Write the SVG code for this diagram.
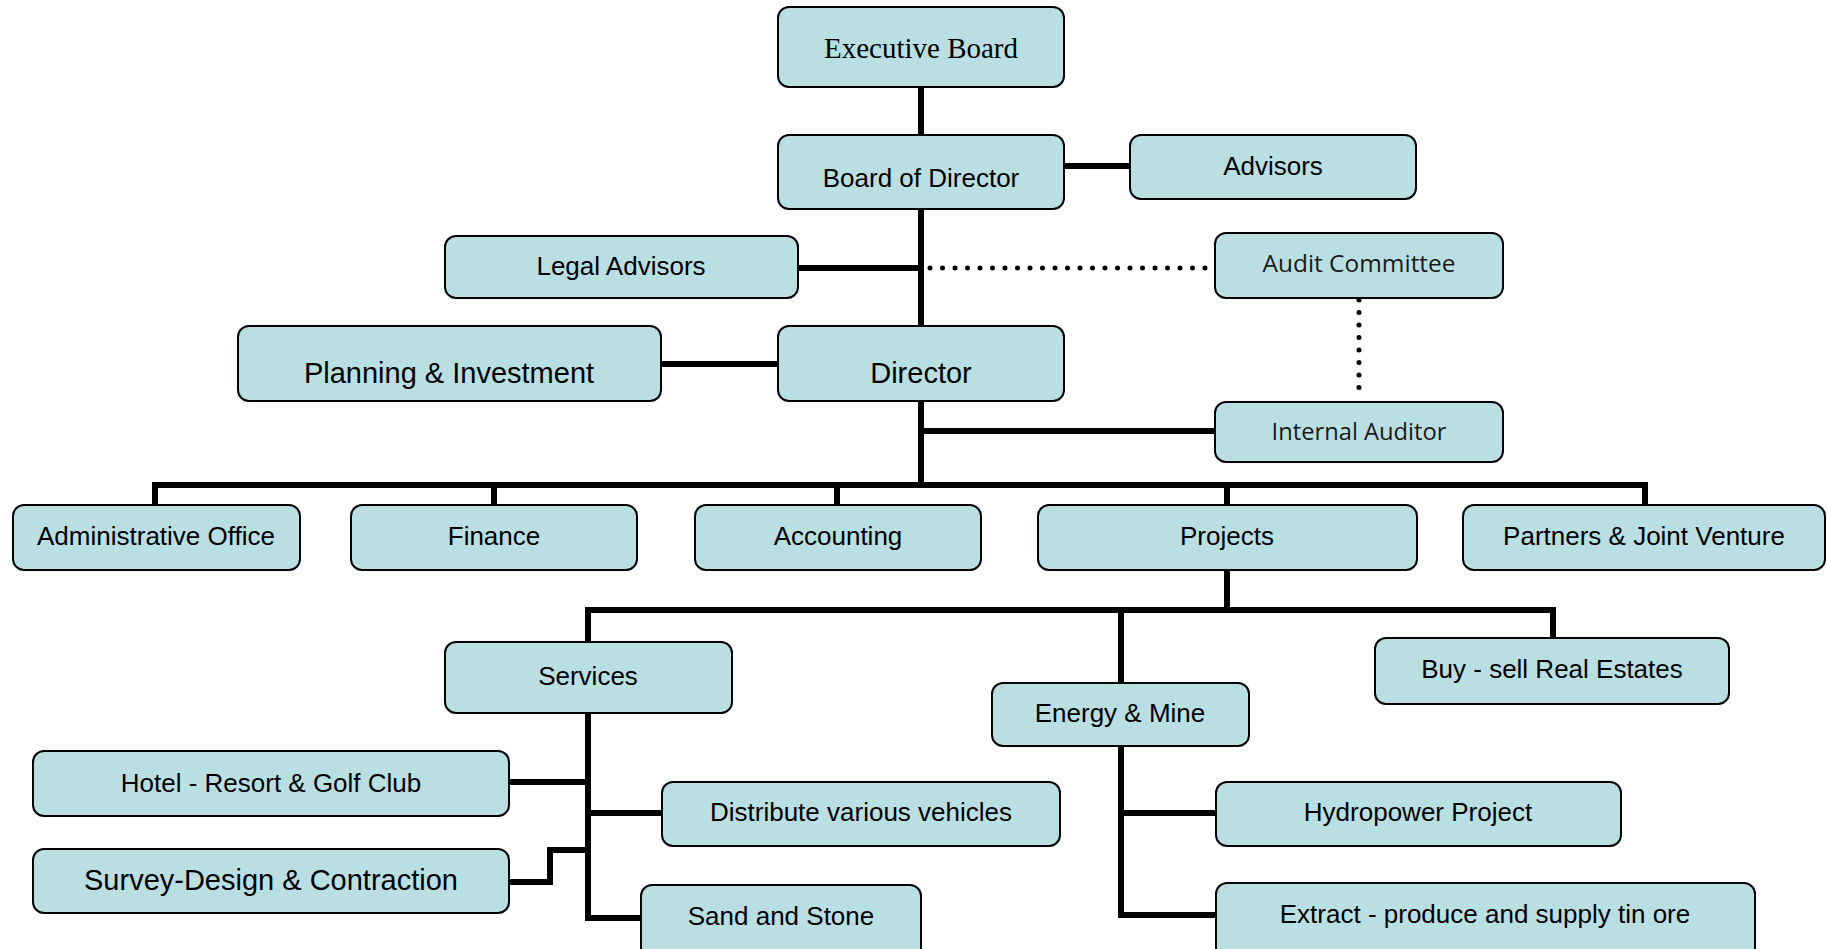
<svg xmlns="http://www.w3.org/2000/svg" width="1827" height="949" viewBox="0 0 1827 949">
<style>
.box{fill:#badfe3;stroke:#000;stroke-width:2}
.t{font-family:"Liberation Sans",Arial,sans-serif;font-size:26px;fill:#000;text-anchor:middle}
.big{font-size:29px}
.light{font-family:"Open Sans","Liberation Sans",sans-serif;font-weight:400;font-size:24px;fill:#1a1a1a}
.serif{font-family:"Liberation Serif","Times New Roman",serif;font-size:29px}
.ln{fill:none;stroke:#000;stroke-width:6}
.dot{fill:none;stroke:#000;stroke-width:5;stroke-linecap:round;stroke-dasharray:0 12.5}
</style>
<rect width="1827" height="949" fill="#fff"/>
<g id="connectors">
<line class="ln" x1="921" y1="87" x2="921" y2="135"/>
<line class="ln" x1="1064" y1="166" x2="1130" y2="166"/>
<line class="ln" x1="921" y1="209" x2="921" y2="326"/>
<line class="ln" x1="798" y1="268" x2="921" y2="268"/>
<line class="dot" x1="930" y1="268" x2="1215" y2="268"/>
<line class="dot" x1="1359" y1="300" x2="1359" y2="400"/>
<line class="ln" x1="661" y1="364" x2="778" y2="364"/>
<line class="ln" x1="921" y1="401" x2="921" y2="485"/>
<line class="ln" x1="921" y1="431" x2="1215" y2="431"/>
<polyline class="ln" points="155,505 155,485 1645,485 1645,505"/>
<line class="ln" x1="494" y1="485" x2="494" y2="505"/>
<line class="ln" x1="837" y1="485" x2="837" y2="505"/>
<line class="ln" x1="1227" y1="485" x2="1227" y2="505"/>
<line class="ln" x1="1227" y1="570" x2="1227" y2="610"/>
<polyline class="ln" points="588,642 588,610 1553,610 1553,638"/>
<line class="ln" x1="1121" y1="610" x2="1121" y2="683"/>
<polyline class="ln" points="588,713 588,918 641,918"/>
<line class="ln" x1="509" y1="782" x2="588" y2="782"/>
<line class="ln" x1="588" y1="813" x2="662" y2="813"/>
<polyline class="ln" points="509,882 550,882 550,850 588,850"/>
<polyline class="ln" points="1121,746 1121,915 1216,915"/>
<line class="ln" x1="1121" y1="813" x2="1216" y2="813"/>
</g>
<g id="n-executive-board"><rect class="box" x="778" y="7" width="286" height="80" rx="11"/><text class="t serif" x="921" y="58">Executive Board</text></g>
<g id="n-board-of-director"><rect class="box" x="778" y="135" width="286" height="74" rx="11"/><text class="t" x="921" y="187">Board of Director</text></g>
<g id="n-advisors"><rect class="box" x="1130" y="135" width="286" height="64" rx="11"/><text class="t" x="1273" y="175">Advisors</text></g>
<g id="n-legal-advisors"><rect class="box" x="445" y="236" width="353" height="62" rx="11"/><text class="t" x="621" y="275">Legal Advisors</text></g>
<g id="n-audit-committee"><rect class="box" x="1215" y="233" width="288" height="65" rx="11"/><text class="t light" x="1359" y="272" textLength="193" lengthAdjust="spacingAndGlyphs">Audit Committee</text></g>
<g id="n-planning"><rect class="box" x="238" y="326" width="423" height="75" rx="11"/><text class="t big" x="449" y="383">Planning &amp; Investment</text></g>
<g id="n-director"><rect class="box" x="778" y="326" width="286" height="75" rx="11"/><text class="t big" x="921" y="383">Director</text></g>
<g id="n-internal-auditor"><rect class="box" x="1215" y="402" width="288" height="60" rx="11"/><text class="t light" x="1359" y="440" textLength="175" lengthAdjust="spacingAndGlyphs">Internal Auditor</text></g>
<g id="n-admin"><rect class="box" x="13" y="505" width="287" height="65" rx="11"/><text class="t" x="156" y="545">Administrative Office</text></g>
<g id="n-finance"><rect class="box" x="351" y="505" width="286" height="65" rx="11"/><text class="t" x="494" y="545">Finance</text></g>
<g id="n-accounting"><rect class="box" x="695" y="505" width="286" height="65" rx="11"/><text class="t" x="838" y="545">Accounting</text></g>
<g id="n-projects"><rect class="box" x="1038" y="505" width="379" height="65" rx="11"/><text class="t" x="1227" y="545">Projects</text></g>
<g id="n-partners"><rect class="box" x="1463" y="505" width="362" height="65" rx="11"/><text class="t" x="1644" y="545">Partners &amp; Joint Venture</text></g>
<g id="n-services"><rect class="box" x="445" y="642" width="287" height="71" rx="11"/><text class="t" x="588" y="685">Services</text></g>
<g id="n-energy"><rect class="box" x="992" y="683" width="257" height="63" rx="11"/><text class="t" x="1120" y="722">Energy &amp; Mine</text></g>
<g id="n-buy-sell"><rect class="box" x="1375" y="638" width="354" height="66" rx="11"/><text class="t" x="1552" y="678">Buy - sell Real Estates</text></g>
<g id="n-hotel"><rect class="box" x="33" y="751" width="476" height="65" rx="11"/><text class="t" x="271" y="792">Hotel - Resort &amp; Golf Club</text></g>
<g id="n-distribute"><rect class="box" x="662" y="782" width="398" height="64" rx="11"/><text class="t" x="861" y="821">Distribute various vehicles</text></g>
<g id="n-survey"><rect class="box" x="33" y="849" width="476" height="64" rx="11"/><text class="t big" x="271" y="890">Survey-Design &amp; Contraction</text></g>
<g id="n-sand"><rect class="box" x="641" y="885" width="280" height="80" rx="11"/><text class="t" x="781" y="925">Sand and Stone</text></g>
<g id="n-hydropower"><rect class="box" x="1216" y="782" width="405" height="64" rx="11"/><text class="t" x="1418" y="821">Hydropower Project</text></g>
<g id="n-extract"><rect class="box" x="1216" y="883" width="539" height="82" rx="11"/><text class="t" x="1485" y="923">Extract - produce and supply tin ore</text></g>
</svg>
